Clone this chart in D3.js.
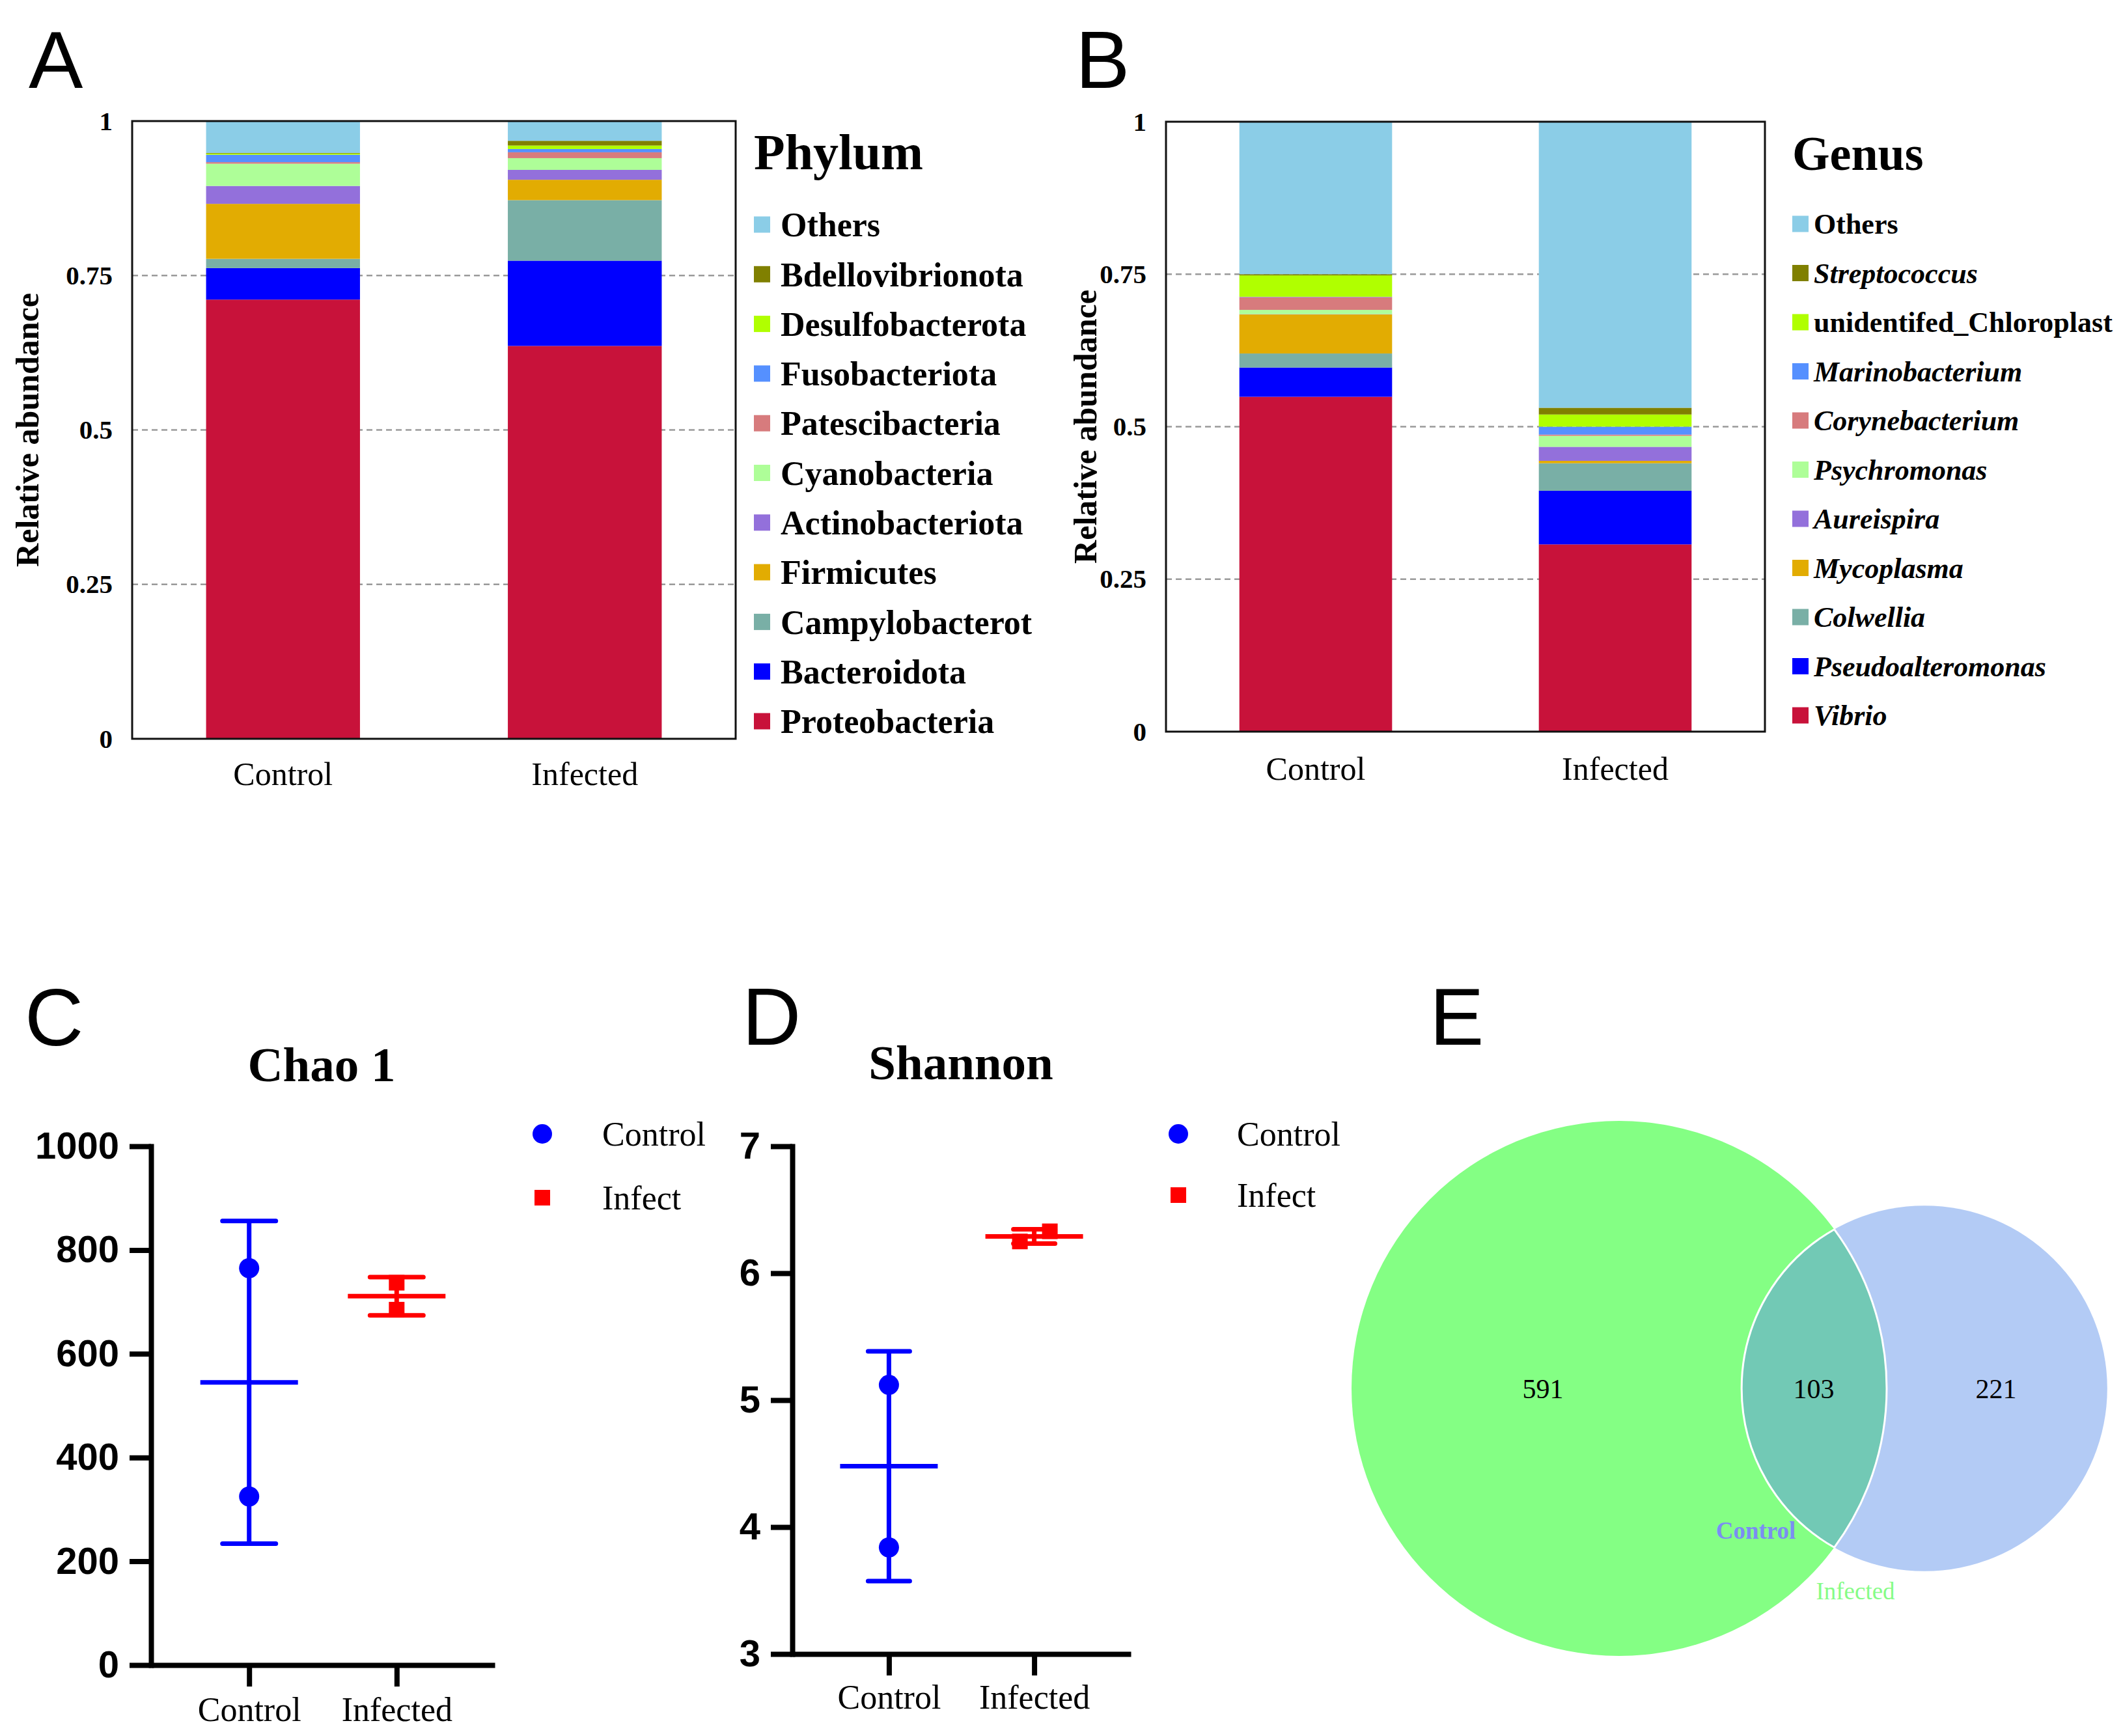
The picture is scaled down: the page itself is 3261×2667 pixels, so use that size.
<!DOCTYPE html>
<html>
<head>
<meta charset="utf-8">
<script src="https://cdn.jsdelivr.net/npm/d3@7"></script>
<style>
  body { margin: 0; background: #fff; }
</style>
</head>
<body>
<svg id="fig"></svg>
<script>
// ---- data ----
const groups = ["Control", "Infected"];

// stacked from the bottom up
const phylumKeys = ["Proteobacteria", "Bacteroidota", "Campylobacterota", "Firmicutes", "Actinobacteriota",
  "Cyanobacteria", "Patescibacteria", "Fusobacteriota", "Desulfobacterota", "Bdellovibrionota", "Others"];
const phylumLabels = ["Proteobacteria", "Bacteroidota", "Campylobacterot", "Firmicutes", "Actinobacteriota",
  "Cyanobacteria", "Patescibacteria", "Fusobacteriota", "Desulfobacterota", "Bdellovibrionota", "Others"];
const phylumControl  = [0.711, 0.051, 0.015, 0.089, 0.029, 0.036, 0.0025, 0.012, 0.002, 0.001, 0.0515];
const phylumInfected = [0.636, 0.138, 0.098, 0.033, 0.016, 0.019, 0.0095, 0.0053, 0.0056, 0.0077, 0.0319];

const genusKeys = ["Vibrio", "Pseudoalteromonas", "Colwellia", "Mycoplasma", "Aureispira", "Psychromonas",
  "Corynebacterium", "Marinobacterium", "unidentifed_Chloroplast", "Streptococcus", "Others"];
const genusItalic = [true, true, true, true, true, true, true, true, false, true, false];
const genusControl  = [0.549, 0.048, 0.023, 0.064, 0.0005, 0.007, 0.021, 0.0005, 0.035, 0.002, 0.250];
const genusInfected = [0.307, 0.088, 0.045, 0.004, 0.023, 0.018, 0.002, 0.013, 0.020, 0.011, 0.469];

const taxaColors = ["#C8123A", "#0000FF", "#79AFA6", "#E2AC02", "#9370DB", "#AEFE98",
  "#D77B7D", "#5590FF", "#B0FF00", "#808000", "#8BCDE7"];
const abundanceTicks = [0, 0.25, 0.5, 0.75, 1];

const chaoControl = [765, 325];
const chaoInfected = [737, 685];
const chaoTicks = [0, 200, 400, 600, 800, 1000];

const shannonControl = [5.12, 3.84];
const shannonInfected = [6.33, 6.25];
const shannonTicks = [3, 4, 5, 6, 7];

const vennSets = ["Infected", "Control"];   // big green circle, small blue circle
const vennCounts = [591, 103, 221];         // only big, shared, only small

// ---- setup ----
const W = 3261, H = 2667;
const serif = "'Liberation Serif', 'Times New Roman', serif";
const sans = "'Liberation Sans', Arial, sans-serif";

const svg = d3.select("#fig").attr("width", W).attr("height", H);
svg.append("rect").attr("width", W).attr("height", H).attr("fill", "#fff");

function panelLetter(txt, x, y) {
  svg.append("text").attr("x", x).attr("y", y).text(txt)
    .attr("font-family", sans).attr("font-size", 125).attr("fill", "#000");
}

// ---- stacked bars (A, B) ----
function stackPanel(cfg) {
  const g = svg.append("g");
  const box = cfg.box;
  const rows = groups.map((grp, i) => {
    const vals = i === 0 ? cfg.control : cfg.infected;
    const o = { group: grp };
    cfg.keys.forEach((k, j) => o[k] = vals[j]);
    return o;
  });
  const series = d3.stack().keys(cfg.keys)(rows);

  const x = d3.scaleBand().domain(groups).range([box.x0, box.x1]).paddingInner(0.49).paddingOuter(0.245);
  const y = d3.scaleLinear().domain([0, 1]).range([box.y1, box.y0]);
  const color = d3.scaleOrdinal().domain(cfg.keys).range(taxaColors);

  g.append("g").selectAll("line")
    .data(abundanceTicks.filter(t => t > 0 && t < 1))
    .join("line")
    .attr("x1", box.x0).attr("x2", box.x1)
    .attr("y1", d => y(d)).attr("y2", d => y(d))
    .attr("stroke", "#9a9a9a").attr("stroke-width", 2.5).attr("stroke-dasharray", "9,6");

  g.append("g").selectAll("g")
    .data(series)
    .join("g")
    .attr("fill", d => color(d.key))
    .selectAll("rect")
    .data(d => d)
    .join("rect")
    .attr("x", d => x(d.data.group))
    .attr("width", x.bandwidth())
    .attr("y", d => y(d[1]))
    .attr("height", d => y(d[0]) - y(d[1]));

  g.append("rect")
    .attr("x", box.x0).attr("y", box.y0)
    .attr("width", box.x1 - box.x0).attr("height", box.y1 - box.y0)
    .attr("fill", "none").attr("stroke", "#111").attr("stroke-width", 3);

  const yAxis = g.append("g").attr("transform", `translate(${box.x0},0)`)
    .call(d3.axisLeft(y).tickValues(abundanceTicks).tickFormat(d3.format("")).tickSize(0).tickPadding(30));
  yAxis.select(".domain").remove();
  yAxis.selectAll("text")
    .attr("font-family", serif).attr("font-weight", "bold").attr("font-size", 41).attr("fill", "#000");

  const xAxis = g.append("g").attr("transform", `translate(0,${box.y1})`)
    .call(d3.axisBottom(x).tickSize(0));
  xAxis.select(".domain").remove();
  xAxis.selectAll("text")
    .attr("y", cfg.xLabelOffset).attr("dy", 0)
    .attr("font-family", serif).attr("font-size", 50).attr("fill", "#000");

  g.append("text")
    .attr("transform", `translate(${cfg.yTitleX},${(box.y0 + box.y1) / 2}) rotate(-90)`)
    .attr("text-anchor", "middle").attr("dominant-baseline", "central")
    .attr("font-family", serif).attr("font-weight", "bold").attr("font-size", 50)
    .text("Relative abundance");

  // legend, top item = last stacked key
  const lg = cfg.legend;
  g.append("text").attr("x", lg.x).attr("y", lg.titleY).text(lg.title)
    .attr("font-family", serif).attr("font-weight", "bold").attr("font-size", lg.titleSize);
  const items = cfg.keys.map((k, i) => ({ key: k, label: cfg.labels[i], italic: cfg.italic ? cfg.italic[i] : false })).reverse();
  const item = g.append("g").selectAll("g")
    .data(items)
    .join("g")
    .attr("transform", (d, i) => `translate(${lg.x},${lg.y0 + i * lg.dy})`);
  item.append("rect")
    .attr("x", 0).attr("y", -12.5).attr("width", 25).attr("height", 25)
    .attr("fill", d => color(d.key));
  item.append("text")
    .attr("x", lg.textDx).attr("y", 0).attr("dy", "0.35em")
    .attr("font-family", serif).attr("font-weight", "bold").attr("font-size", lg.size)
    .attr("font-style", d => d.italic ? "italic" : "normal")
    .text(d => d.label);
}

panelLetter("A", 44, 135);
stackPanel({
  keys: phylumKeys, labels: phylumLabels, control: phylumControl, infected: phylumInfected,
  box: { x0: 203, x1: 1130, y0: 186, y1: 1135 },
  xLabelOffset: 71, yTitleX: 42,
  legend: { title: "Phylum", x: 1158, titleY: 260, titleSize: 78, y0: 345, dy: 76.3, textDx: 41, size: 52 }
});

panelLetter("B", 1652, 135);
stackPanel({
  keys: genusKeys, labels: genusKeys, italic: genusItalic, control: genusControl, infected: genusInfected,
  box: { x0: 1791, x1: 2711, y0: 187, y1: 1124 },
  xLabelOffset: 74, yTitleX: 1667,
  legend: { title: "Genus", x: 2753, titleY: 261, titleSize: 74, y0: 344, dy: 75.5, textDx: 33, size: 44 }
});

// ---- dot plots with mean +/- SD (C, D) ----
function dotPanel(cfg) {
  const g = svg.append("g");
  const y = d3.scaleLinear().domain(cfg.domain).range([cfg.yBottom, cfg.yTop]);
  const x = d3.scalePoint().domain(groups).range([cfg.axisX, cfg.xRight]).padding(0.665);
  const blue = "#0000FF", red = "#FF0000";

  const yAxis = g.append("g").attr("transform", `translate(${cfg.axisX},0)`)
    .call(d3.axisLeft(y).tickValues(cfg.ticks).tickFormat(d3.format("d"))
      .tickSize(33).tickSizeOuter(0).tickPadding(16));
  yAxis.selectAll("line, path").attr("stroke", "#000").attr("stroke-width", 8);
  yAxis.select(".domain").attr("stroke-linecap", "square");
  yAxis.selectAll("text")
    .attr("font-family", sans).attr("font-weight", "bold").attr("font-size", 58).attr("fill", "#000");

  const xAxis = g.append("g").attr("transform", `translate(0,${cfg.yBottom})`)
    .call(d3.axisBottom(x).tickSize(33).tickSizeOuter(0));
  xAxis.selectAll("line, path").attr("stroke", "#000").attr("stroke-width", 8);
  xAxis.selectAll("text")
    .attr("y", cfg.xLabelOffset).attr("dy", 0)
    .attr("font-family", serif).attr("font-size", 52).attr("fill", "#000");

  g.append("text").attr("x", cfg.titleX).attr("y", cfg.titleY).attr("text-anchor", "middle")
    .attr("font-family", serif).attr("font-weight", "bold").attr("font-size", 75)
    .text(cfg.title);

  const sets = [
    { group: "Control", vals: cfg.control, color: blue },
    { group: "Infected", vals: cfg.infected, color: red }
  ];
  sets.forEach(s => {
    const cx = x(s.group);
    const m = d3.mean(s.vals), sd = d3.deviation(s.vals);
    const eg = g.append("g").attr("stroke", s.color).attr("stroke-width", 7);
    eg.append("line").attr("x1", cx).attr("x2", cx).attr("y1", y(m - sd)).attr("y2", y(m + sd));
    eg.selectAll(".cap").data([m - sd, m + sd]).join("line").attr("class", "cap")
      .attr("stroke-linecap", "round")
      .attr("x1", cx - cfg.capW / 2).attr("x2", cx + cfg.capW / 2)
      .attr("y1", d => y(d)).attr("y2", d => y(d));
    eg.append("line").attr("x1", cx - 75).attr("x2", cx + 75).attr("y1", y(m)).attr("y2", y(m));
  });

  g.selectAll(".pt").data(cfg.control).join("circle").attr("class", "pt")
    .attr("cx", x("Control")).attr("cy", d => y(d)).attr("r", 15.5).attr("fill", blue);
  g.selectAll(".sq").data(cfg.infected).join("rect").attr("class", "sq")
    .attr("x", (d, i) => x("Infected") + cfg.jitter[i] - 12).attr("y", d => y(d) - 12)
    .attr("width", 24).attr("height", 24).attr("fill", red);

  const lg = cfg.legend;
  g.append("circle").attr("cx", lg.x).attr("cy", lg.y0).attr("r", 15).attr("fill", blue);
  g.append("rect").attr("x", lg.x - 12).attr("y", lg.y1 - 12).attr("width", 24).attr("height", 24).attr("fill", red);
  g.append("text").attr("x", lg.textX).attr("y", lg.y0).attr("dy", "0.35em")
    .attr("font-family", serif).attr("font-size", 52).text("Control");
  g.append("text").attr("x", lg.textX).attr("y", lg.y1).attr("dy", "0.35em")
    .attr("font-family", serif).attr("font-size", 52).text("Infect");
}

panelLetter("C", 38, 1606);
dotPanel({
  domain: [0, 1000], ticks: chaoTicks, control: chaoControl, infected: chaoInfected,
  axisX: 232, xRight: 760, yBottom: 2558, yTop: 1761,
  capW: 82, jitter: [0, 0], xLabelOffset: 86,
  title: "Chao 1", titleX: 494, titleY: 1661,
  legend: { x: 833, y0: 1742, y1: 1840, textX: 925 }
});

panelLetter("D", 1140, 1605);
dotPanel({
  domain: [3, 7], ticks: shannonTicks, control: shannonControl, infected: shannonInfected,
  axisX: 1217, xRight: 1737, yBottom: 2541, yTop: 1761,
  capW: 64, jitter: [24, -22], xLabelOffset: 84,
  title: "Shannon", titleX: 1476, titleY: 1658,
  legend: { x: 1810, y0: 1742, y1: 1836, textX: 1900 }
});

// ---- Venn (E) ----
panelLetter("E", 2196, 1605);
(function venn() {
  const g = svg.append("g");
  const bigTotal = vennCounts[0] + vennCounts[1];
  const smallTotal = vennCounts[2] + vennCounts[1];
  const r = d3.scaleSqrt().domain([0, bigTotal]).range([0, 411]);
  const r1 = r(bigTotal), r2 = r(smallTotal);
  const cy = 2133, c1 = 2487, dist = 469, c2 = c1 + dist;

  g.append("circle").attr("cx", c1).attr("cy", cy).attr("r", r1).attr("fill", "#84FF84");
  g.append("circle").attr("cx", c2).attr("cy", cy).attr("r", r2).attr("fill", "#B3CBF5");

  const a = (dist * dist + r1 * r1 - r2 * r2) / (2 * dist);
  const h = Math.sqrt(r1 * r1 - a * a);
  const ix = c1 + a;
  g.append("path")
    .attr("d", `M${ix},${cy - h} A${r2},${r2} 0 0 0 ${ix},${cy + h} A${r1},${r1} 0 0 0 ${ix},${cy - h} Z`)
    .attr("fill", "#72C9B5").attr("stroke", "#fff").attr("stroke-width", 3);

  const labelX = [2370, 2786, 3066];
  g.selectAll(".cnt").data(vennCounts).join("text").attr("class", "cnt")
    .attr("x", (d, i) => labelX[i]).attr("y", cy).attr("dy", "0.35em")
    .attr("text-anchor", "middle").attr("font-family", serif).attr("font-size", 42)
    .text(d => d);

  g.append("text").attr("x", 2697).attr("y", 2364).attr("text-anchor", "middle")
    .attr("font-family", serif).attr("font-weight", "bold").attr("font-size", 37)
    .attr("fill", "#7B8DF2").text(vennSets[1]);
  g.append("text").attr("x", 2850).attr("y", 2457).attr("text-anchor", "middle")
    .attr("font-family", serif).attr("font-size", 37)
    .attr("fill", "#86FC86").text(vennSets[0]);
})();
</script>
</body>
</html>
